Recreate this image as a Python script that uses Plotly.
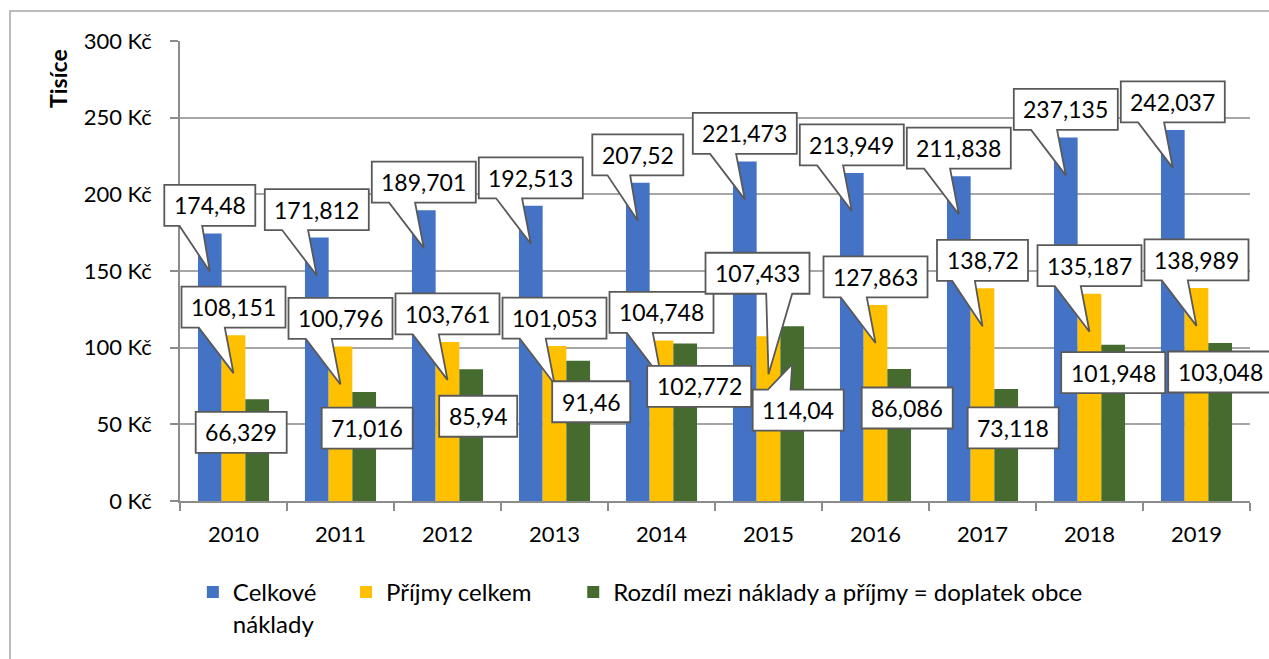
import plotly.graph_objects as go

# ---------------- data ----------------
years = ['2010', '2011', '2012', '2013', '2014', '2015', '2016', '2017', '2018', '2019']
celkove_naklady = [174.48, 171.812, 189.701, 192.513, 207.52, 221.473, 213.949, 211.838, 237.135, 242.037]
prijmy_celkem = [108.151, 100.796, 103.761, 101.053, 104.748, 107.433, 127.863, 138.72, 135.187, 138.989]
rozdil_doplatek = [66.329, 71.016, 85.94, 91.46, 102.772, 114.04, 86.086, 73.118, 101.948, 103.048]
series_names = ['Celkové<br>náklady', 'Příjmy celkem', 'Rozdíl mezi náklady a příjmy = doplatek obce']
y_tick_values = [0, 50, 100, 150, 200, 250, 300]
y_tick_labels = ['0 Kč', '50 Kč', '100 Kč', '150 Kč', '200 Kč', '250 Kč', '300 Kč']
y_title = 'Tisíce'

# ---------------- style / layout ----------------
colors = ['#4472C4', '#FFC000', '#456B2E']
FONT = 'Lato'
W, H = 1269, 659
M_L, M_R, M_T, M_B = 180, 19, 41, 158
BARGAP = 0.3355
BAR_W = (1 - BARGAP) / 3          # bar width in category units
offsets = [-BAR_W, 0.0, BAR_W]    # bar centre offsets within a group
NBSP = '\u00a0'
legend_pad = [4, 6, 0]            # extra spacing after each legend entry (nbsp count)

# callout box centre offsets (px, screen direction) relative to bar top
callout_offsets = [
    [(0, -28)] * 10,
    [(0, -28)] * 5 + [(-11, -63)] + [(0, -28)] * 4,
    [(-16, 33), (3, 36), (7, 47), (13, 41), (14, 43), (6, 84), (8, 39), (7, 39), (0, 28), (0, 29)],
]
TIP = 38          # callout tip sits this many px below the bar top
BOX_H = 41


def fmt(v):
    return f'{v:g}'.replace('.', ',')


def pad_name(name, k):
    if k == 0:
        return name
    parts = name.split('<br>')
    parts[0] = parts[0] + NBSP * k
    return '<br>'.join(parts)


def callout_path(dx, dy, w, h, tip=TIP):
    l, r = dx - w / 2, dx + w / 2
    t, b = dy - h / 2, dy + h / 2
    tx, ty = 0.0, float(tip)
    if l < tx < r and t < ty < b:
        pts = [(l, t), (r, t), (r, b), (l, b)]
    else:
        dxp, dyp = tx - dx, ty - dy
        if abs(dxp) * h > abs(dyp) * w:
            y1 = t + h * (7 if dyp > 0 else 2) / 12
            y2 = t + h * (10 if dyp > 0 else 5) / 12
            if dxp < 0:
                pts = [(l, t), (r, t), (r, b), (l, b), (l, y2), (tx, ty), (l, y1)]
            else:
                pts = [(l, t), (r, t), (r, y1), (tx, ty), (r, y2), (r, b), (l, b)]
        else:
            x1 = l + w * (7 if dxp > 0 else 2) / 12
            x2 = l + w * (10 if dxp > 0 else 5) / 12
            if dyp > 0:
                pts = [(l, t), (r, t), (r, b), (x2, b), (tx, ty), (x1, b), (l, b)]
            else:
                pts = [(l, t), (x1, t), (tx, ty), (x2, t), (r, t), (r, b), (l, b)]
    return 'M ' + ' L '.join(f'{x:.1f},{-y:.1f}' for x, y in pts) + ' Z'


fig = go.Figure()
all_series = [celkove_naklady, prijmy_celkem, rozdil_doplatek]
for name, vals, col, k in zip(series_names, all_series, colors, legend_pad):
    fig.add_trace(go.Bar(x=years, y=vals, name=pad_name(name, k),
                         marker=dict(color=col, line=dict(width=0))))

shapes = []
annotations = []
n = len(years)
for s, vals in enumerate(all_series):
    for i, v in enumerate(vals):
        label = fmt(v)
        ndig = sum(c.isdigit() for c in label)
        w = 26 + 13 * ndig
        dx, dy = callout_offsets[s][i]
        xpaper = (i + offsets[s] + 0.5) / n
        shapes.append(dict(
            type='path', path=callout_path(dx, dy, w, BOX_H),
            xref='paper', yref='y', xsizemode='pixel', ysizemode='pixel',
            xanchor=xpaper, yanchor=v,
            fillcolor='white', line=dict(color='#595959', width=1.8), layer='above'))
        annotations.append(dict(
            text=label, xref='paper', yref='y', x=xpaper, y=v,
            xshift=dx, yshift=-dy, showarrow=False,
            xanchor='center', yanchor='middle',
            font=dict(family=FONT, size=23, color='#000000')))

# chart frame
shapes.append(dict(type='rect', xref='paper', yref='paper',
                   x0=(10 - M_L) / 1070, x1=1.3, y0=-0.6, y1=(501 - 11) / 460,
                   line=dict(color='#A6A6A6', width=1.5), fillcolor='rgba(0,0,0,0)', layer='below'))

annotations.append(dict(text='<b>' + y_title + '</b>', xref='paper', yref='paper',
                        x=(58 - M_L) / 1070, y=(501 - 79) / 460, textangle=-90,
                        showarrow=False, xanchor='center', yanchor='middle',
                        font=dict(family=FONT, size=23, color='#000000')))

fig.update_layout(
    width=W, height=H,
    margin=dict(l=M_L, r=M_R, t=M_T, b=M_B, pad=0),
    paper_bgcolor='white', plot_bgcolor='white',
    barmode='group', bargap=BARGAP, bargroupgap=0,
    font=dict(family=FONT, color='#000000'),
    shapes=shapes, annotations=annotations,
    legend=dict(orientation='h', x=0.012, y=1 - 570 / H, xanchor='left', yanchor='top',
                yref='container',
                font=dict(family=FONT, size=24, color='#000000'), valign='top',
                bgcolor='rgba(0,0,0,0)', borderwidth=0, traceorder='normal'),
    xaxis=dict(type='category', range=[-0.5, n - 0.5], tickson='boundaries',
               ticks='outside', ticklen=8, tickcolor='#8C8C8C', tickwidth=1.5,
               showline=True, linecolor='#8C8C8C', linewidth=1.5, showgrid=False,
               tickfont=dict(family=FONT, size=22, color='#000000'), ticklabelstandoff=13),
    yaxis=dict(range=[0, 300], tickvals=y_tick_values, ticktext=y_tick_labels,
               ticks='outside', ticklen=8, tickcolor='#8C8C8C', tickwidth=1.5,
               showline=True, linecolor='#8C8C8C', linewidth=1.5,
               showgrid=True, gridcolor='#A6A6A6', gridwidth=1.5,
               zeroline=False,
               tickfont=dict(family=FONT, size=22, color='#000000'), ticklabelstandoff=14),
)

fig.write_html('out.html', config={'displayModeBar': False},
               post_script="document.body.style.margin='0';")
